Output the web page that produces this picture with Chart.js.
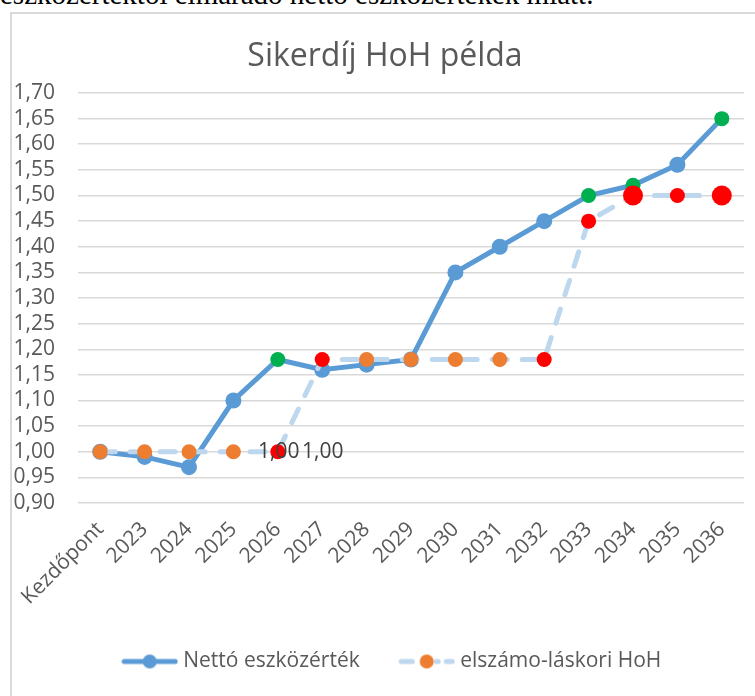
<!DOCTYPE html>
<html>
<head>
<meta charset="utf-8">
<script src="https://cdn.jsdelivr.net/npm/chart.js@4.4.1/dist/chart.umd.min.js"></script>
<style>
  html, body { margin: 0; padding: 0; background: #fff; overflow: hidden; }
  body { width: 755px; height: 696px; position: relative; }
  .doc-text {
    position: absolute; left: 0; top: -20px; white-space: nowrap;
    font-family: "Liberation Serif", serif; font-size: 29px; line-height: 29px; color: #000;
  }
  .chart-box {
    position: absolute; left: 10px; top: 12px; width: 760px; height: 700px;
    border: 2px solid #d9d9d9; box-sizing: border-box;
  }
  #myChart { position: absolute; left: 0; top: 0; }
</style>
</head>
<body>
<div class="doc-text">eszközértéktől elmaradó nettó eszközértékek miatt.</div>
<div class="chart-box"></div>
<canvas id="myChart" width="755" height="696"></canvas>
<script>
const categories = ["Kezdőpont", "2023", "2024", "2025", "2026", "2027", "2028", "2029", "2030", "2031", "2032", "2033", "2034", "2035", "2036"];
const nettoValues = [1.00, 0.99, 0.97, 1.10, 1.18, 1.16, 1.17, 1.18, 1.35, 1.40, 1.45, 1.50, 1.52, 1.56, 1.65];
const hohValues = [1.00, 1.00, 1.00, 1.00, 1.00, 1.18, 1.18, 1.18, 1.18, 1.18, 1.18, 1.45, 1.50, 1.50, 1.50];
const seriesNames = ["Nettó eszközérték", "elszámo-láskori HoH"];
const yTicks = { min: 0.9, max: 1.7, step: 0.05 };
const labelledPoint = 4; // 2026, HoH "1,00"

const BLUE = "#5B9BD5";
const LIGHT_BLUE = "#BDD7EE";
const ORANGE = "#ED7D31";
const GREEN = "#00B050";
const RED = "#FF0000";
const TEXT = "#595959";

const nettoColors = [BLUE, BLUE, BLUE, BLUE, GREEN, BLUE, BLUE, BLUE, BLUE, BLUE, BLUE, GREEN, GREEN, BLUE, GREEN];
const nettoRadius = [8, 8, 8, 8, 7.5, 8, 8, 8, 8, 8, 8, 7.5, 7.5, 8, 7.5];
const hohColors = [ORANGE, ORANGE, ORANGE, ORANGE, RED, RED, ORANGE, ORANGE, ORANGE, ORANGE, RED, RED, RED, RED, RED];
const hohRadius = [7.5, 7.5, 7.5, 7.5, 7.5, 7.5, 7.5, 7.5, 7.5, 7.5, 7.5, 7.5, 10, 7.5, 10];

const canvasChart = document.getElementById("myChart");

function fmt(v) {
  return v.toFixed(2).replace(".", ",");
}

function legendIcon(lineColor, dotColor, dashed) {
  const c = document.createElement("canvas");
  c.width = 57;
  c.height = 20;
  const g = c.getContext("2d");
  g.strokeStyle = lineColor;
  g.lineWidth = 5;
  g.lineCap = "round";
  if (dashed) {
    g.beginPath(); g.moveTo(3, 10); g.lineTo(14, 10); g.stroke();
    g.beginPath(); g.moveTo(38, 10); g.lineTo(40, 10); g.stroke();
    g.beginPath(); g.moveTo(48, 10); g.lineTo(54, 10); g.stroke();
  } else {
    g.beginPath(); g.moveTo(3, 10); g.lineTo(54, 10); g.stroke();
  }
  g.fillStyle = dotColor;
  g.beginPath(); g.arc(28.5, 10, 7, 0, Math.PI * 2); g.fill();
  return c;
}

const icons = [legendIcon(BLUE, BLUE, false), legendIcon(LIGHT_BLUE, ORANGE, true)];

// "1,00" labels next to the 2026 HoH point
const valueLabels = {
  id: "valueLabels",
  afterDatasetsDraw(chart) {
    const meta = chart.getDatasetMeta(1);
    const pt = meta.data[labelledPoint];
    const ctx = chart.ctx;
    const text = fmt(hohValues[labelledPoint]);
    ctx.save();
    ctx.font = "21px 'Open Sans'";
    ctx.fillStyle = "#404040";
    ctx.textAlign = "center";
    ctx.textBaseline = "middle";
    ctx.fillText(text, pt.x + 1, pt.y);
    ctx.fillText(text, pt.x + 45, pt.y);
    ctx.restore();
  },
};

// Excel centres title and legend a little right of the canvas centre
const shiftBlocks = {
  id: "shiftBlocks",
  afterLayout(chart) {
    chart.titleBlock.left += 7;
    chart.titleBlock.right += 7;
    chart.legend.left += 16;
    chart.legend.right += 16;
  },
};

const myChart = new Chart(canvasChart, {
  type: "line",
  data: {
    labels: categories,
    datasets: [
      {
        label: seriesNames[0],
        data: nettoValues,
        borderColor: BLUE,
        borderWidth: 5,
        pointBackgroundColor: nettoColors,
        pointBorderColor: nettoColors,
        pointBorderWidth: 0,
        pointRadius: nettoRadius,
        tension: 0,
        order: 2,
      },
      {
        label: seriesNames[1],
        data: hohValues,
        borderColor: LIGHT_BLUE,
        borderWidth: 5,
        borderDash: [15, 15],
        borderCapStyle: "round",
        pointBackgroundColor: hohColors,
        pointBorderColor: hohColors,
        pointBorderWidth: 0,
        pointRadius: hohRadius,
        tension: 0,
        order: 1,
      },
    ],
  },
  options: {
    responsive: false,
    animation: false,
    layout: { padding: { left: 12, right: 11, top: 0, bottom: 14 } },
    plugins: {
      tooltip: { enabled: false },
      title: {
        display: true,
        text: "Sikerdíj HoH példa",
        color: TEXT,
        font: { family: "'Open Sans'", size: 32, weight: "normal" },
        padding: { top: 38, bottom: 16.6 },
      },
      legend: {
        position: "bottom",
        labels: {
          color: TEXT,
          font: { family: "'Open Sans'", size: 21 },
          usePointStyle: true,
          pointStyleWidth: 46,
          padding: 44,
          generateLabels() {
            return seriesNames.map((name, i) => ({
              text: name,
              pointStyle: icons[i],
              fontColor: TEXT,
              datasetIndex: i,
              lineWidth: 0,
            }));
          },
        },
      },
    },
    scales: {
      x: {
        offset: true,
        grid: { display: false },
        border: { display: false },
        ticks: {
          color: TEXT,
          font: { family: "'Open Sans'", size: 21 },
          minRotation: 45,
          maxRotation: 45,
          autoSkip: false,
          padding: 6,
        },
        afterFit(scale) {
          scale.height = 104;
        },
      },
      y: {
        min: yTicks.min,
        max: yTicks.max,
        grid: { color: "#D9D9D9", lineWidth: 1.5, drawTicks: false },
        border: { display: false },
        ticks: {
          stepSize: yTicks.step,
          autoSkip: false,
          color: TEXT,
          font: { family: "'Open Sans'", size: 21 },
          padding: 23,
          callback: (v) => fmt(v),
        },
        afterFit(scale) {
          scale.width = 66;
        },
      },
    },
  },
  plugins: [valueLabels, shiftBlocks],
});
</script>
</body>
</html>
